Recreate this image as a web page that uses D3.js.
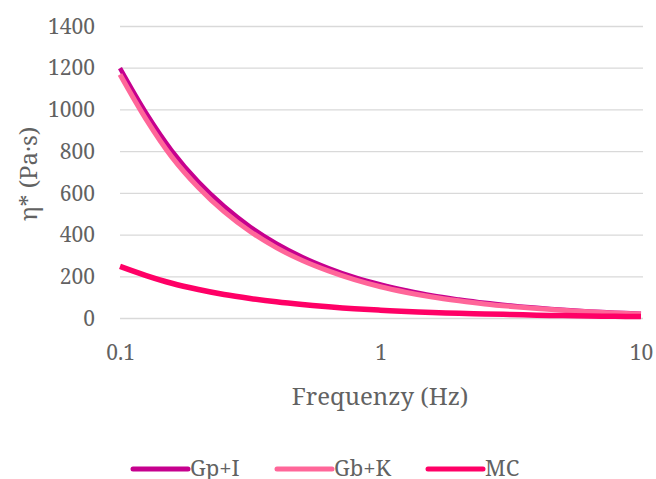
<!DOCTYPE html>
<html>
<head>
<meta charset="utf-8">
<script src="https://cdn.jsdelivr.net/npm/d3@7"></script>
<style>
  body { margin: 0; background: #fff; }
  text { font-family: "Noto Serif", "Liberation Serif", serif; fill: #626262; }
</style>
</head>
<body>
<div id="chart"></div>
<script>
// frequency (Hz), 10 points per decade
const frequency = [0.1, 0.126, 0.158, 0.2, 0.251, 0.316, 0.398, 0.501, 0.631, 0.794,
                   1, 1.26, 1.58, 2, 2.51, 3.16, 3.98, 5.01, 6.31, 7.94, 10];
// complex viscosity eta* (Pa.s)
const gpI = [1200, 985, 805, 655, 538, 440, 360, 295, 242, 198,
             163, 134, 110, 91, 75, 62, 51, 42, 34, 28, 23];
const gbK = [1170, 955, 775, 628, 512, 417, 340, 278, 228, 186,
             152, 125, 103, 85, 70, 58, 48, 39, 32, 26, 21];
const mc = [250, 206, 169, 139, 115, 96, 80, 67, 56, 47,
            40, 34, 29, 25, 22, 19, 16, 14, 12, 10.5, 9];

const seriesNames = ["Gp+I", "Gb+K", "MC"];
const seriesValues = [gpI, gbK, mc];
const seriesColors = ["#C6008E", "#FF6699", "#FF0066"];
const seriesWidths = [4.5, 5, 5.5];

const yTicks = [0, 200, 400, 600, 800, 1000, 1200, 1400];
const xTicks = [0.1, 1, 10];
const xTitle = "Frequenzy (Hz)";
const yTitle = "η* (Pa·s)";

const width = 656, height = 479;
const margin = {left: 120, right: 15, top: 26.5, bottom: 160.5};

const svg = d3.select("#chart").append("svg")
  .attr("width", width).attr("height", height);

const x = d3.scaleLog().domain([0.1, 10]).range([margin.left, 641]);
const y = d3.scaleLinear().domain([0, 1400]).range([318.5, margin.top]);

// gridlines
svg.append("g").selectAll("line").data(yTicks).join("line")
  .attr("x1", margin.left).attr("x2", 643)
  .attr("y1", d => y(d)).attr("y2", d => y(d))
  .attr("stroke", "#d9d9d9").attr("stroke-width", 1.3);

// y tick labels
const yAxis = svg.append("g").attr("transform", `translate(${margin.left},0)`)
  .call(d3.axisLeft(y).tickValues(yTicks).tickSize(0).tickPadding(25).tickFormat(d3.format("d")));
yAxis.select(".domain").remove();
yAxis.selectAll("text").style("font-size", "21px").attr("fill", "#626262")
  .style("font-family", "'Noto Serif'");

// x tick labels
const xAxis = svg.append("g").attr("transform", "translate(0,318.5)")
  .call(d3.axisBottom(x).tickValues(xTicks).tickSize(0).tickPadding(27).tickFormat(d => d));
xAxis.select(".domain").remove();
xAxis.selectAll("text").style("font-size", "21px").attr("fill", "#626262")
  .style("font-family", "'Noto Serif'");

// axis titles
svg.append("text")
  .attr("x", 380).attr("y", 405)
  .attr("text-anchor", "middle")
  .style("font-size", "24px")
  .text(xTitle);

svg.append("text")
  .attr("transform", "translate(37,174) rotate(-90)")
  .attr("text-anchor", "middle")
  .style("font-size", "24px")
  .text(yTitle);

// lines
const line = d3.line()
  .x((d, i) => x(frequency[i]))
  .y(d => y(d))
  .curve(d3.curveCatmullRom.alpha(0.5));

svg.append("g").selectAll("path").data(seriesValues).join("path")
  .attr("d", d => line(d))
  .attr("fill", "none")
  .attr("stroke", (d, i) => seriesColors[i])
  .attr("stroke-width", (d, i) => seriesWidths[i])
  .attr("stroke-linejoin", "round");

// legend
const legendX = [133, 277, 428];
const legend = svg.append("g").selectAll("g").data(seriesNames).join("g")
  .attr("transform", (d, i) => `translate(${legendX[i]},469)`);
legend.append("line")
  .attr("x1", 0).attr("x2", 55).attr("y1", 0).attr("y2", 0)
  .attr("stroke", (d, i) => seriesColors[i])
  .attr("stroke-width", 5)
  .attr("stroke-linecap", "round");
legend.append("text")
  .attr("x", 57).attr("y", 7)
  .style("font-size", "22px")
  .text(d => d);
</script>
</body>
</html>
